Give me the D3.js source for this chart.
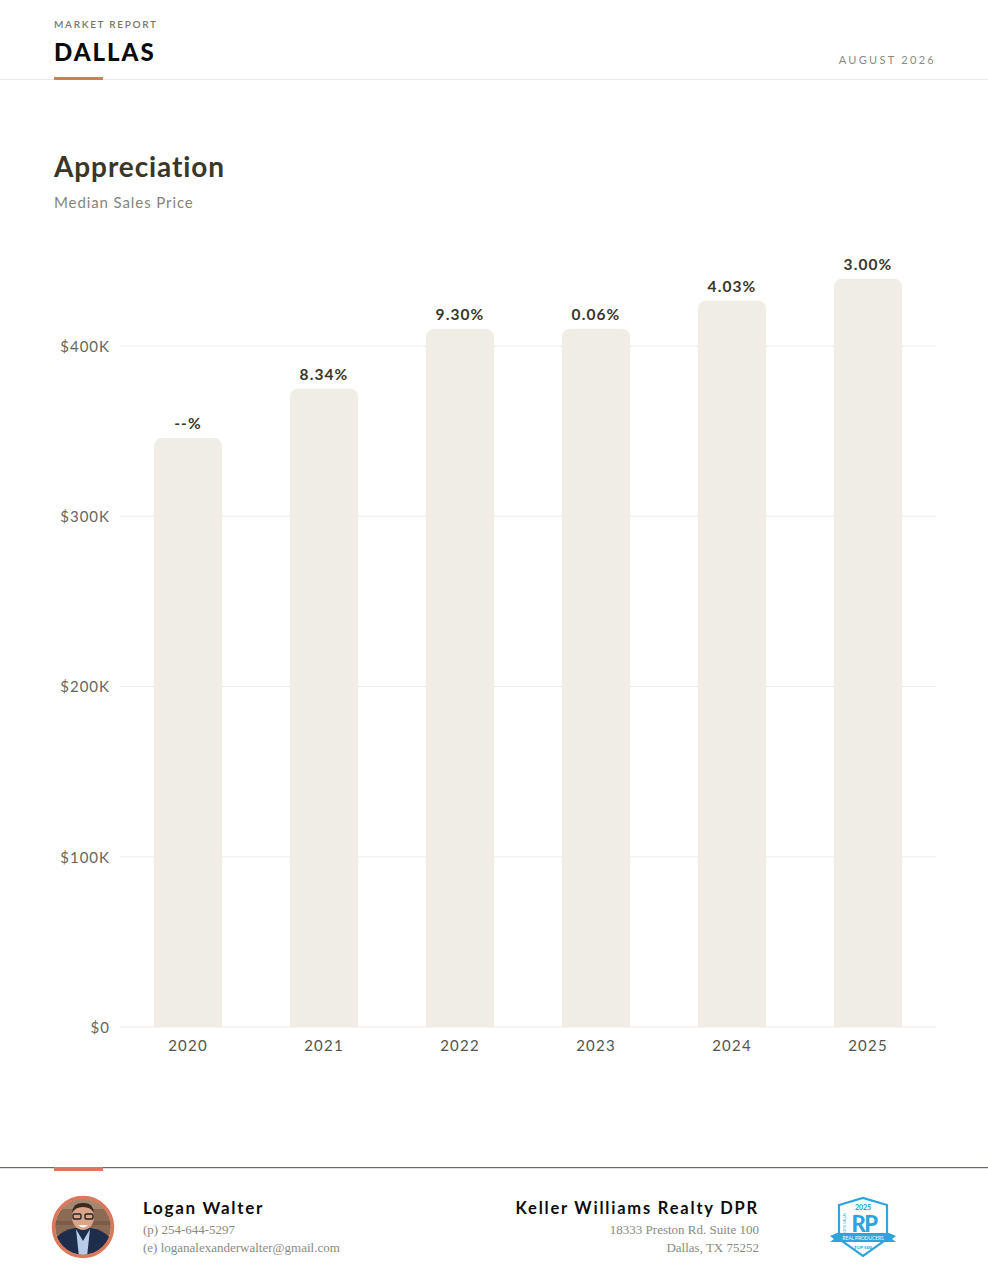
<!DOCTYPE html>
<html>
<head>
<meta charset="utf-8">
<script src="https://cdn.jsdelivr.net/npm/d3@7"></script>
<style>
  html, body { margin: 0; padding: 0; background: #fff; }
  svg { display: block; }
  text { font-family: Lato, "Noto Sans", sans-serif; }
  .serif { font-family: "Liberation Serif", "DejaVu Serif", serif; }
</style>
</head>
<body>
<svg id="page" width="988" height="1284"></svg>
<script>
// chart data
var years = ["2020", "2021", "2022", "2023", "2024", "2025"];
var medianPrice = [346000, 375000, 410000, 410200, 426700, 439500];
var changeLabels = ["--%", "8.34%", "9.30%", "0.06%", "4.03%", "3.00%"];
var yTicks = [0, 100000, 200000, 300000, 400000];

var svg = d3.select("#page");
var W = 988;

// ---- header
svg.append("text").attr("x", 54).attr("y", 28)
  .attr("font-size", 10).attr("letter-spacing", 1.7).attr("fill", "#77776c")
  .attr("font-weight", 600).text("MARKET REPORT");
svg.append("text").attr("x", 54).attr("y", 61)
  .attr("font-size", 24).attr("font-weight", 900).attr("fill", "#0b0b0b")
  .attr("letter-spacing", 2).text("DALLAS");
svg.append("text").attr("x", 936).attr("y", 64).attr("text-anchor", "end")
  .attr("font-size", 11).attr("letter-spacing", 2.3).attr("fill", "#8a8a80")
  .text("AUGUST 2026");
svg.append("rect").attr("x", 0).attr("y", 79).attr("width", W).attr("height", 1).attr("fill", "#ebebeb");
svg.append("rect").attr("x", 54).attr("y", 77).attr("width", 49).attr("height", 3).attr("fill", "#d9785a");

// ---- title
svg.append("text").attr("x", 54).attr("y", 177)
  .attr("font-size", 28).attr("font-weight", 700).attr("fill", "#38372a")
  .attr("letter-spacing", 0.9).text("Appreciation");
svg.append("text").attr("x", 54).attr("y", 208)
  .attr("font-size", 15).attr("fill", "#85857a").attr("letter-spacing", 0.9)
  .text("Median Sales Price");

// ---- chart
var x = d3.scaleBand().domain(years).range([120, 936]).paddingInner(0.5).paddingOuter(0.25);
var y = d3.scaleLinear().domain([0, 400000]).range([1027, 346]);

var grid = svg.append("g");
grid.selectAll("line").data(yTicks).enter().append("line")
  .attr("x1", 120).attr("x2", 936)
  .attr("y1", function(d) { return y(d); }).attr("y2", function(d) { return y(d); })
  .attr("stroke", "#ececec").attr("stroke-width", 1);

var yAxis = svg.append("g").attr("transform", "translate(110,0)")
  .call(d3.axisLeft(y).tickValues(yTicks).tickSize(0).tickPadding(0)
    .tickFormat(function(d) { return d === 0 ? "$0" : "$" + (d / 1000) + "K"; }));
yAxis.select(".domain").remove();
yAxis.selectAll("text").attr("font-size", 15).attr("fill", "#66665c")
  .attr("font-family", "Lato, sans-serif").attr("letter-spacing", 1).attr("dy", "0.35em");

function topRounded(x0, y0, w, h, r) {
  r = Math.min(r, h);
  return "M" + x0 + "," + (y0 + h) + "V" + (y0 + r) +
    "Q" + x0 + "," + y0 + " " + (x0 + r) + "," + y0 +
    "H" + (x0 + w - r) + "Q" + (x0 + w) + "," + y0 + " " + (x0 + w) + "," + (y0 + r) +
    "V" + (y0 + h) + "Z";
}

var bars = svg.append("g");
bars.selectAll("path").data(medianPrice).enter().append("path")
  .attr("d", function(d, i) {
    return topRounded(x(years[i]), y(d), x.bandwidth(), y(0) - y(d), 9);
  })
  .attr("fill", "#f0ede6");

svg.append("g").selectAll("text").data(medianPrice).enter().append("text")
  .attr("x", function(d, i) { return x(years[i]) + x.bandwidth() / 2; })
  .attr("y", function(d) { return y(d) - 9; })
  .attr("text-anchor", "middle").attr("font-size", 15.5).attr("font-weight", 700)
  .attr("fill", "#38372c").attr("letter-spacing", 1.1)
  .text(function(d, i) { return changeLabels[i]; });

var xAxis = svg.append("g").attr("transform", "translate(0,1027)")
  .call(d3.axisBottom(x).tickSize(0).tickPadding(0));
xAxis.select(".domain").remove();
xAxis.selectAll("text").attr("font-size", 15).attr("fill", "#55554c")
  .attr("font-family", "Lato, sans-serif").attr("letter-spacing", 1.2).attr("dy", "1.62em");

// ---- footer
svg.append("rect").attr("x", 0).attr("y", 1167).attr("width", W).attr("height", 1.2).attr("fill", "#6b6a58");
svg.append("rect").attr("x", 54).attr("y", 1167).attr("width", 49).attr("height", 4).attr("fill", "#d9785a");

// avatar
var av = svg.append("g").attr("transform", "translate(83,1227)");
svg.append("defs").append("clipPath").attr("id", "avclip")
  .append("circle").attr("r", 28);
var ph = av.append("g").attr("clip-path", "url(#avclip)");
ph.append("rect").attr("x", -30).attr("y", -30).attr("width", 60).attr("height", 60).attr("fill", "#8c6b55");
ph.append("rect").attr("x", -30).attr("y", -30).attr("width", 60).attr("height", 12).attr("fill", "#a4876e");
ph.append("rect").attr("x", -30).attr("y", -6).attr("width", 60).attr("height", 4).attr("fill", "#7a5c48");
ph.append("path").attr("d", "M-30,30 L-26,10 Q-20,3 -8,1 L8,1 Q20,3 26,10 L30,30 Z").attr("fill", "#1f2d4c");
ph.append("path").attr("d", "M-7,2 L0,14 L7,2 L4,30 L-4,30 Z").attr("fill", "#b8cbe6");
ph.append("ellipse").attr("cx", 0).attr("cy", -10).attr("rx", 11).attr("ry", 13).attr("fill", "#d9a487");
ph.append("path").attr("d", "M-11,-14 Q-10,-25 0,-24 Q10,-25 11,-14 Q8,-20 0,-20 Q-8,-20 -11,-14 Z").attr("fill", "#3b2a22");
ph.append("rect").attr("x", -10).attr("y", -13).attr("width", 8).attr("height", 5).attr("rx", 1.5)
  .attr("fill", "none").attr("stroke", "#222").attr("stroke-width", 1.4);
ph.append("rect").attr("x", 2).attr("y", -13).attr("width", 8).attr("height", 5).attr("rx", 1.5)
  .attr("fill", "none").attr("stroke", "#222").attr("stroke-width", 1.4);
ph.append("path").attr("d", "M-5,-2 Q0,3 5,-2").attr("fill", "#f4f0ea");
av.append("circle").attr("r", 29.5).attr("fill", "none").attr("stroke", "#d9785a").attr("stroke-width", 3.5);

svg.append("text").attr("x", 143).attr("y", 1214).attr("font-size", 17).attr("font-weight", 700)
  .attr("fill", "#0d0d0d").attr("letter-spacing", 1.7).text("Logan Walter");
svg.append("text").attr("class", "serif").attr("x", 143).attr("y", 1234).attr("font-size", 13)
  .attr("fill", "#8a8a80").text("(p) 254-644-5297");
svg.append("text").attr("class", "serif").attr("x", 143).attr("y", 1252).attr("font-size", 13)
  .attr("fill", "#8a8a80").text("(e) loganalexanderwalter@gmail.com");

svg.append("text").attr("x", 759).attr("y", 1214).attr("text-anchor", "end").attr("font-size", 16.5)
  .attr("font-weight", 700).attr("fill", "#0d0d0d").attr("letter-spacing", 1.8).text("Keller Williams Realty DPR");
svg.append("text").attr("class", "serif").attr("x", 759).attr("y", 1234).attr("text-anchor", "end")
  .attr("font-size", 13).attr("fill", "#8a8a80").text("18333 Preston Rd. Suite 100");
svg.append("text").attr("class", "serif").attr("x", 759).attr("y", 1252).attr("text-anchor", "end")
  .attr("font-size", 13).attr("fill", "#8a8a80").text("Dallas, TX 75252");

// badge
var bd = svg.append("g").attr("transform", "translate(863,1227)");
var blue = "#2ea3dc";
bd.append("path").attr("d", "M-24,-22 L0,-29 L24,-22 L24,12 L0,29 L-24,12 Z")
  .attr("fill", "#fff").attr("stroke", blue).attr("stroke-width", 2.2);
bd.append("text").attr("x", 0).attr("y", -17).attr("text-anchor", "middle").attr("font-size", 7)
  .attr("font-weight", 900).attr("fill", blue).text("2025");
bd.append("text").attr("x", 1).attr("y", 5).attr("text-anchor", "middle").attr("font-size", 22)
  .attr("font-weight", 900).attr("fill", blue).attr("letter-spacing", -1.5).text("RP");
bd.append("text").attr("transform", "translate(-17,-3) rotate(-90)").attr("text-anchor", "middle")
  .attr("font-size", 3).attr("fill", blue).text("NORTH DALLAS");
bd.append("path").attr("d", "M-33,9 L-26,6 L26,6 L33,9 L29,12 L33,15 L-33,15 L-29,12 Z").attr("fill", blue);
bd.append("text").attr("x", 0).attr("y", 12.7).attr("text-anchor", "middle").attr("font-size", 4.8)
  .attr("fill", "#fff").text("REAL PRODUCERS");
bd.append("text").attr("x", 0).attr("y", 22).attr("text-anchor", "middle").attr("font-size", 4.5)
  .attr("font-weight", 900).attr("fill", blue).text("TOP 500");
</script>
</body>
</html>
